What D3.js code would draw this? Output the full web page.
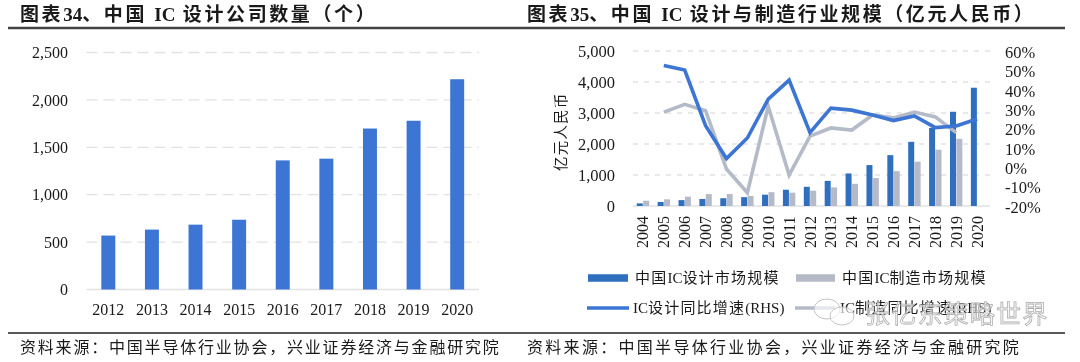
<!DOCTYPE html>
<html>
<head>
<meta charset="utf-8">
<script src="https://cdn.jsdelivr.net/npm/d3@7"></script>
<style>
  html, body { margin: 0; padding: 0; background: #fff; }
  svg { display: block; filter: blur(0.35px); }
  text { font-family: "Liberation Serif", "Noto Sans CJK SC", serif; fill: #1a1a1a; }
  .latin { letter-spacing: 0; }
</style>
</head>
<body>
<script>
const width = 1080
const height = 362

// Left chart data
const companyYears = ["2012","2013","2014","2015","2016","2017","2018","2019","2020"];
const companyCounts = [569, 632, 684, 736, 1362, 1380, 1698, 1780, 2218];
const companyTicks = [0, 500, 1000, 1500, 2000, 2500];

// Right chart data
const scaleYears = ["2004","2005","2006","2007","2008","2009","2010","2011","2012","2013","2014","2015","2016","2017","2018","2019","2020"];
const designSize = [85, 130, 190, 225, 250, 285, 365, 525, 620, 810, 1050, 1320, 1640, 2070, 2520, 3040, 3815];
const makeSize = [170, 215, 300, 385, 385, 325, 445, 430, 495, 600, 715, 900, 1125, 1430, 1815, 2165, null];
const designGrowth = [null, 53, 50.7, 22, 5, 15.6, 35.7, 45.5, 18.4, 31, 30, 27.5, 24.6, 27, 21, 21.8, 25.4];
const makeGrowth = [null, 29, 33, 29.7, -0.4, -12.6, 32, -3.5, 16.6, 20.8, 19.7, 27.5, 26, 29, 26.5, 18.4, null];
const sizeTicks = [0, 1000, 2000, 3000, 4000, 5000];
const growthTicks = [-20, -10, 0, 10, 20, 30, 40, 50, 60];

const legendNames = ["中国IC设计市场规模", "中国IC制造市场规模", "IC设计同比增速(RHS)", "IC制造同比增速(RHS)"];

const blue = "#3c75d3";
const darkBlue = "#2f6fbe";
const gray = "#b4bac8";
const gridColor = "#e2e2e2";

const svg = d3.select("body")
  .append("svg")
  .attr("width", width)
  .attr("height", height);

// Rules run the whole width
svg.append("line")
  .attr("x1", 8).attr("x2", 1065).attr("y1", 28).attr("y2", 28)
  .attr("stroke", "#444").attr("stroke-width", 2.4);
svg.append("line")
  .attr("x1", 8).attr("x2", 1065).attr("y1", 333).attr("y2", 333)
  .attr("stroke", "#222").attr("stroke-width", 1.6);

// Latin runs sit tight in the reference, only the CJK is spaced out
function spacedText(sel, str) {
  str.split(/([A-Za-z0-9()]+)/).forEach(part => {
    if (!part) return;
    sel.append("tspan")
      .attr("class", /^[A-Za-z0-9()]+$/.test(part) ? "latin" : null)
      .text(part);
  });
}

// Headers and source lines
function drawHeader(x, title, titleGap, source, sourceGap) {
  svg.append("text")
    .attr("x", x).attr("y", 21)
    .attr("font-size", 19).attr("font-weight", "bold")
    .attr("letter-spacing", titleGap)
    .call(spacedText, title);
  svg.append("text")
    .attr("x", x).attr("y", 353)
    .attr("font-size", 16)
    .attr("letter-spacing", sourceGap)
    .text(source);
}

drawHeader(20, "图表34、中国 IC 设计公司数量（个）", 2.6, "资料来源：中国半导体行业协会，兴业证券经济与金融研究院", 1.8);
drawHeader(527, "图表35、中国 IC 设计与制造行业规模（亿元人民币）", 2.6, "资料来源：中国半导体行业协会，兴业证券经济与金融研究院", 2.3);

// Left chart
const x1 = d3.scaleBand().domain(companyYears).range([86.5, 479]).paddingInner(0.68).paddingOuter(0.34);
const y1 = d3.scaleLinear().domain([0, 2500]).range([289.5, 52.5]);

const left = svg.append("g");

left.append("g")
  .selectAll("line")
  .data(companyTicks)
  .join("line")
    .attr("x1", 86.5).attr("x2", 479)
    .attr("y1", d => y1(d)).attr("y2", d => y1(d))
    .attr("stroke", gridColor).attr("stroke-width", 1.3)
    .attr("stroke-dasharray", d => d === 0 ? null : "11 6");

left.append("g")
  .call(d3.axisLeft(y1).tickValues(companyTicks).tickFormat(d3.format(",")).tickSize(0).tickPadding(0))
  .attr("transform", "translate(68,0)")
  .call(g => g.select(".domain").remove())
  .selectAll("text").attr("font-size", 16);

left.append("g").selectAll("rect")
  .data(companyCounts)
  .join("rect")
    .attr("x", (d, i) => x1(companyYears[i]))
    .attr("width", x1.bandwidth())
    .attr("y", d => y1(d))
    .attr("height", d => y1(0) - y1(d))
    .attr("fill", blue);

left.append("g")
  .attr("transform", "translate(0,304)")
  .call(d3.axisBottom(x1).tickSize(0).tickPadding(0))
  .call(g => g.select(".domain").remove())
  .selectAll("text").attr("font-size", 16).attr("dy", "0.71em");

// Right chart
const x2 = d3.scaleBand().domain(scaleYears).range([632.5, 987.5]);
const y2 = d3.scaleLinear().domain([0, 5000]).range([206, 51]);
const y3 = d3.scaleLinear().domain([-20, 60]).range([207, 52]);

const right = svg.append("g");

right.append("g")
  .selectAll("line")
  .data(sizeTicks)
  .join("line")
    .attr("x1", 633).attr("x2", 990)
    .attr("y1", d => y2(d)).attr("y2", d => y2(d))
    .attr("stroke", gridColor).attr("stroke-width", 1.3)
    .attr("stroke-dasharray", d => d === 0 ? null : "5 6");

right.append("g")
  .attr("transform", "translate(615,0)")
  .call(d3.axisLeft(y2).tickValues(sizeTicks).tickFormat(d3.format(",")).tickSize(0).tickPadding(0))
  .call(g => g.select(".domain").remove())
  .selectAll("text").attr("font-size", 16.5);

right.append("g")
  .attr("transform", "translate(1005,0)")
  .call(d3.axisRight(y3).tickValues(growthTicks).tickFormat(d => d + "%").tickSize(0).tickPadding(0))
  .call(g => g.select(".domain").remove())
  .selectAll("text").attr("font-size", 16.5);

const barW = 6;

right.append("g").selectAll("rect")
  .data(makeSize)
  .join("rect")
    .filter(d => d !== null)
    .attr("x", (d, i) => x2(scaleYears[i]) + x2.bandwidth() / 2 + 0.2)
    .attr("width", barW)
    .attr("y", d => y2(d))
    .attr("height", d => y2(0) - y2(d))
    .attr("fill", gray);

right.append("g").selectAll("rect")
  .data(designSize)
  .join("rect")
    .attr("x", (d, i) => x2(scaleYears[i]) + x2.bandwidth() / 2 - barW - 0.2)
    .attr("width", barW)
    .attr("y", d => y2(d))
    .attr("height", d => y2(0) - y2(d))
    .attr("fill", darkBlue);

const growthLine = d3.line()
  .defined(d => d !== null)
  .x((d, i) => x2(scaleYears[i]) + x2.bandwidth() / 2)
  .y(d => y3(d));

right.append("path")
  .attr("d", growthLine(makeGrowth))
  .attr("fill", "none").attr("stroke", gray).attr("stroke-width", 3.6);

right.append("path")
  .attr("d", growthLine(designGrowth))
  .attr("fill", "none").attr("stroke", blue).attr("stroke-width", 3.6);

right.append("g")
  .selectAll("text")
  .data(scaleYears)
  .join("text")
    .attr("transform", d => `translate(${x2(d) + x2.bandwidth() / 2 + 5.5},248) rotate(-90)`)
    .attr("font-size", 16)
    .text(d => d);

right.append("text")
  .attr("transform", "translate(566,171) rotate(-90)")
  .attr("font-size", 14.5)
  .attr("letter-spacing", 1.2)
  .text("亿元人民币");

// Legend
const legendRows = [
  {name: legendNames[0], color: darkBlue, sw: 7.5, kx0: 588, kx1: 628, tx: 635, y: 283},
  {name: legendNames[1], color: gray, sw: 7.5, kx0: 796, kx1: 835, tx: 842, y: 283},
  {name: legendNames[2], color: blue, sw: 3.6, kx0: 587, kx1: 629, tx: 633, y: 313},
  {name: legendNames[3], color: gray, sw: 3.6, kx0: 795, kx1: 835, tx: 840, y: 313}
];

const legend = svg.append("g").selectAll("g")
  .data(legendRows)
  .join("g");

legend.append("line")
  .attr("x1", d => d.kx0).attr("x2", d => d.kx1)
  .attr("y1", d => d.y - 5).attr("y2", d => d.y - 5)
  .attr("stroke", d => d.color).attr("stroke-width", d => d.sw);

legend.append("text")
  .attr("x", d => d.tx).attr("y", d => d.y)
  .attr("font-size", 15)
  .attr("letter-spacing", 1.2)
  .call(sel => sel.each(function(d) { spacedText(d3.select(this), d.name); }));

// Watermark on top of the legend
const mark = svg.append("g").attr("stroke", "#c4c4c4").attr("stroke-width", 1);
mark.append("ellipse").attr("cx", 827).attr("cy", 309).attr("rx", 13).attr("ry", 10).attr("fill", "rgba(255,255,255,0.65)");
mark.append("ellipse").attr("cx", 842).attr("cy", 316).attr("rx", 12).attr("ry", 9).attr("fill", "rgba(255,255,255,0.65)");

svg.append("text")
  .attr("x", 865).attr("y", 323)
  .attr("font-size", 25)
  .attr("letter-spacing", 1.2)
  .style("font-family", "'Noto Sans CJK SC'")
  .style("fill", "rgba(255,255,255,0.6)")
  .style("stroke", "#adadad")
  .style("stroke-width", 0.8)
  .text("张亿东策略世界");
</script>
</body>
</html>
